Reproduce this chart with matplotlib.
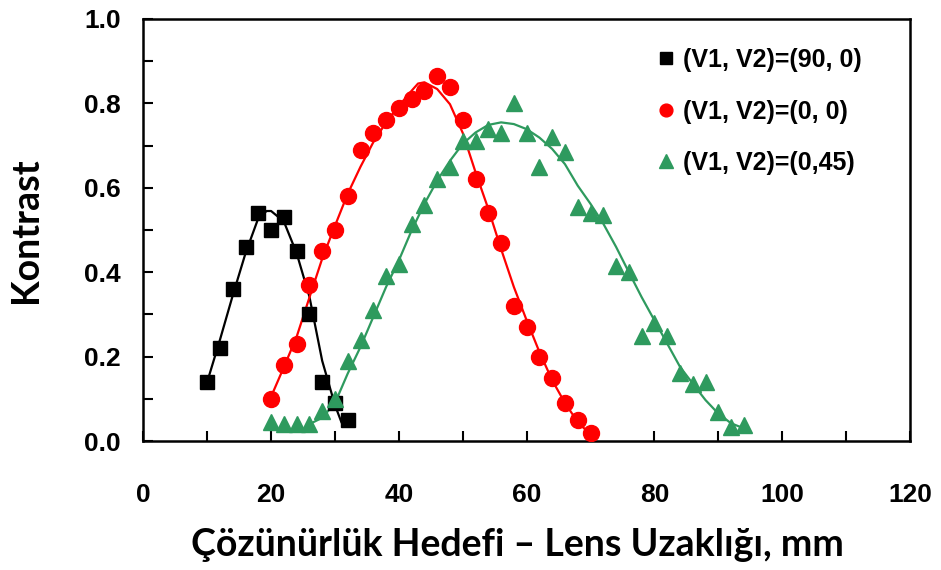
# ============================================================
# Kontrast vs. Çözünürlük Hedefi – Lens Uzaklığı
# Output: out.png (941 x 570 px)
# ============================================================

import matplotlib
matplotlib.use("Agg")
import matplotlib.pyplot as plt
from matplotlib.ticker import MultipleLocator

# ============================================================
# 1. Global style
# ============================================================

plt.rcParams.update({
    "font.family": ["Liberation Sans", "DejaVu Sans"],
    "font.weight": "bold",
    "axes.linewidth": 1.8,
    "xtick.direction": "in",
    "ytick.direction": "in",
    "xtick.major.size": 7,
    "ytick.major.size": 7,
    "xtick.minor.size": 7,
    "ytick.minor.size": 7,
    "xtick.major.width": 1.5,
    "ytick.major.width": 1.5,
    "xtick.minor.width": 1.5,
    "ytick.minor.width": 1.5,
})

# ============================================================
# 2. Data
# ============================================================

# (V1, V2) = (90, 0)  -- black squares
x_black = [10, 12, 14, 16, 18, 20, 22, 24, 26, 28, 30, 32]
y_black = [0.14, 0.22, 0.36, 0.46, 0.54, 0.50, 0.53, 0.45, 0.30, 0.14, 0.09, 0.05]

# (V1, V2) = (0, 0)  -- red circles
x_red = [20, 22, 24, 26, 28, 30, 32, 34, 36, 38, 40, 42, 44,
         46, 48, 50, 52, 54, 56, 58, 60, 62, 64, 66, 68, 70]
y_red = [0.10, 0.18, 0.23, 0.37, 0.45, 0.50, 0.58, 0.69, 0.73, 0.76, 0.79, 0.81, 0.83,
         0.865, 0.84, 0.76, 0.62, 0.54, 0.47, 0.32, 0.27, 0.20, 0.15, 0.09, 0.05, 0.02]

# (V1, V2) = (0, 45)  -- green triangles
x_green = [20, 22, 24, 26, 28, 30, 32, 34, 36, 38, 40, 42, 44, 46, 48, 50, 52, 54, 56,
           58, 60, 62, 64, 66, 68, 70, 72, 74, 76, 78, 80, 82, 84, 86, 88, 90, 92, 94]
y_green = [0.045, 0.04, 0.04, 0.04, 0.07, 0.10, 0.19, 0.24, 0.31, 0.39, 0.42, 0.515, 0.56,
           0.62, 0.65, 0.71, 0.71, 0.74, 0.73, 0.80, 0.73, 0.65, 0.72, 0.685, 0.555, 0.54,
           0.535, 0.415, 0.40, 0.25, 0.28, 0.25, 0.16, 0.135, 0.14, 0.068, 0.034, 0.038]

# fitted curves
xf_black = [10, 12, 14, 16, 18, 19.3, 20, 22, 24, 26, 28, 30, 31]
yf_black = [0.14, 0.24, 0.345, 0.445, 0.528, 0.545, 0.545, 0.52, 0.445, 0.342, 0.19, 0.085, 0.045]

xf_red = [20, 22, 24, 26, 28, 30, 32, 34, 36, 38, 40, 42, 43, 44, 46,
          48, 50, 52, 54, 56, 58, 60, 62, 64, 66, 68, 70]
yf_red = [0.105, 0.175, 0.247, 0.34, 0.432, 0.51, 0.586, 0.65, 0.708, 0.755, 0.794, 0.83, 0.847,
          0.85, 0.834, 0.798, 0.73, 0.637, 0.55, 0.455, 0.365, 0.286, 0.211, 0.144, 0.09, 0.045, 0.015]

xf_green = [26, 28, 30, 32, 34, 36, 38, 40, 42, 44, 46, 48, 50, 52, 54, 56, 58, 60,
            62, 64, 66, 68, 70, 72, 74, 76, 78, 80, 82, 84, 86, 88, 90, 92, 94]
yf_green = [0.04, 0.055, 0.09, 0.16, 0.223, 0.294, 0.365, 0.428, 0.499, 0.562, 0.617, 0.664,
            0.704, 0.731, 0.749, 0.755, 0.751, 0.739, 0.719, 0.692, 0.656, 0.605, 0.562,
            0.515, 0.46, 0.40, 0.341, 0.286, 0.231, 0.176, 0.136, 0.097, 0.065, 0.042, 0.03]

labels = ["(V1, V2)=(90, 0)", "(V1, V2)=(0, 0)", "(V1, V2)=(0,45)"]

# ============================================================
# 3. Colors
# ============================================================

black_color = "#000000"
red_color = "#FF0000"
green_color = "#2E9A5E"

# ============================================================
# 4. Figure
# ============================================================

fig = plt.figure(figsize=(9.41, 5.70), dpi=100)
ax = fig.add_axes([0.1523, 0.2263, 0.8147, 0.7404])

# fitted lines
ax.plot(xf_black, yf_black, color=black_color, lw=1.6, zorder=2)
ax.plot(xf_red, yf_red, color=red_color, lw=1.6, zorder=2)
ax.plot(xf_green, yf_green, color=green_color, lw=1.6, zorder=2)

# measured points
ax.plot(x_black, y_black, ls="none", marker="s", ms=10.5, color=black_color,
        label=labels[0], zorder=3)
ax.plot(x_red, y_red, ls="none", marker="o", ms=11.5, color=red_color,
        label=labels[1], zorder=3)
ax.plot(x_green, y_green, ls="none", marker="^", ms=12, color=green_color,
        label=labels[2], zorder=3)

ax.set_xlim(0, 120)
ax.set_ylim(0, 1.0)
ax.xaxis.set_major_locator(MultipleLocator(20))
ax.xaxis.set_minor_locator(MultipleLocator(10))
ax.yaxis.set_major_locator(MultipleLocator(0.2))
ax.yaxis.set_minor_locator(MultipleLocator(0.1))
ax.yaxis.set_major_formatter(lambda v, p: f"{v:.1f}")

ax.tick_params(axis="x", which="both", top=False, labelsize=19, pad=30)
ax.tick_params(axis="y", which="both", right=False, labelsize=19, pad=16)
for t in ax.get_xticklabels() + ax.get_yticklabels():
    t.set_fontweight("bold")

ax.set_ylabel("Kontrast", fontsize=27, fontweight="bold", family=["Lato", "DejaVu Sans"],
              labelpad=30)
ax.set_xlabel("Çözünürlük Hedefi – Lens Uzaklığı, mm", fontsize=27, fontweight="bold",
              family=["Lato", "DejaVu Sans"])
ax.xaxis.set_label_coords(0.488, -0.207)

leg = ax.legend(
    loc="upper left",
    bbox_to_anchor=(0.673, 0.955),
    bbox_transform=fig.transFigure,
    frameon=False,
    handlelength=0.8,
    handletextpad=0.3,
    labelspacing=1.1,
    markerscale=0.8,
    prop={"size": 18, "weight": "bold"},
)

fig.savefig("out.png", dpi=100)
